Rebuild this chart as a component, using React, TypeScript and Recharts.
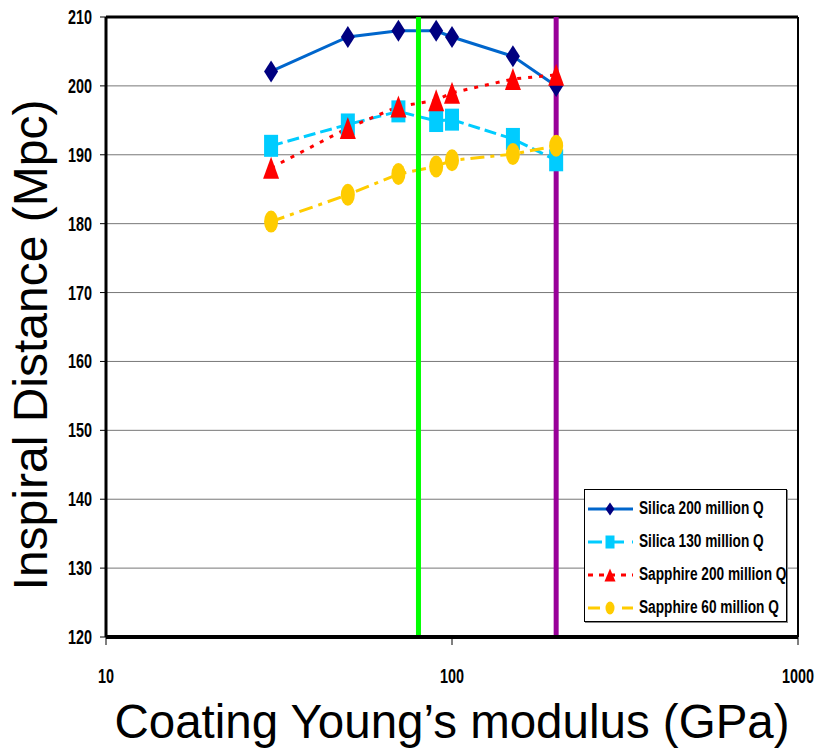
import React from 'react';
import {
  LineChart,
  Line,
  XAxis,
  YAxis,
  CartesianGrid,
  ReferenceLine,
  Legend,
} from 'recharts';

const xValues = [30, 50, 70, 90, 100, 150, 200];
const silica200 = [202.1, 207.1, 208, 208, 207.1, 204.3, 200];
const silica130 = [191.3, 194.4, 196.3, 194.9, 195.1, 192.3, 189.2];
const sapphire200 = [188.1, 193.9, 197, 197.9, 199, 201, 201.6];
const sapphire60 = [180.3, 184.2, 187.2, 188.3, 189.2, 190.1, 191.3];

const xTicks = [10, 100, 1000];
const yTicks = [120, 130, 140, 150, 160, 170, 180, 190, 200, 210];
const markerLines = [80, 200];

const seriesNames = [
  'Silica 200 million Q',
  'Silica 130 million Q',
  'Sapphire 200 million Q',
  'Sapphire 60 million Q',
];

const data = xValues.map((x, i) => ({
  x,
  s200: silica200[i],
  s130: silica130[i],
  p200: sapphire200[i],
  p60: sapphire60[i],
}));

const SANS = "'Liberation Sans', Arial, sans-serif";

type Kind = 'diamond' | 'square' | 'triangle' | 'circle';

const Marker = ({ cx, cy, kind, fill, w = 14, h = 22 }: any) => {
  if (cx == null || cy == null) return null;
  const hw = w / 2;
  const hh = h / 2;
  if (kind === 'diamond') {
    return <path d={`M${cx},${cy - hh}L${cx + hw},${cy}L${cx},${cy + hh}L${cx - hw},${cy}Z`} fill={fill} />;
  }
  if (kind === 'square') {
    return <rect x={cx - hw} y={cy - hh} width={w} height={h} fill={fill} />;
  }
  if (kind === 'triangle') {
    const tw = w + 2;
    return <path d={`M${cx},${cy - hh}L${cx + tw / 2},${cy + hh}L${cx - tw / 2},${cy + hh}Z`} fill={fill} />;
  }
  return <ellipse cx={cx} cy={cy} rx={hw} ry={hh} fill={fill} />;
};

const makeDot = (kind: Kind, fill: string) => (props: any) => (
  <Marker key={`${kind}-${props.index}`} cx={props.cx} cy={props.cy} kind={kind} fill={fill} />
);

const seriesStyle = [
  { key: 's200', stroke: '#0066CC', dash: undefined, legendDash: undefined, marker: 'diamond' as Kind, markerFill: '#000080' },
  { key: 's130', stroke: '#00CCFF', dash: '12 5', legendDash: '14 8', marker: 'square' as Kind, markerFill: '#00CCFF' },
  { key: 'p200', stroke: '#FF0000', dash: '4 7', legendDash: '5 6', marker: 'triangle' as Kind, markerFill: '#FF0000' },
  { key: 'p60', stroke: '#FFCC00', dash: '14 6 4 6', legendDash: '12 22', marker: 'circle' as Kind, markerFill: '#FFCC00' },
];

const NarrowText = ({ x, y, anchor, children }: any) => (
  <g transform={`translate(${x},${y}) scale(0.72,1)`}>
    <text x={0} y={0} textAnchor={anchor} fontFamily={SANS} fontWeight="bold" fontSize={20} fill="#000">
      {children}
    </text>
  </g>
);

const YTick = (props: any) => {
  const { x, y, payload } = props;
  return <NarrowText x={x} y={y + 7} anchor="end">{payload.value}</NarrowText>;
};

const XTick = (props: any) => {
  const { x, payload } = props;
  return <NarrowText x={x} y={683} anchor="middle">{payload.value}</NarrowText>;
};

const LegendContent = () => (
  <div
    style={{
      width: 203,
      height: 133,
      boxSizing: 'border-box',
      border: '1px solid #000',
      background: '#fff',
      boxShadow: '1px 1px 0 #888',
      paddingTop: 2,
    }}
  >
    {seriesStyle.map((s, i) => (
      <div key={s.key} style={{ display: 'flex', alignItems: 'center', height: 33 }}>
        <svg width={50} height={20} style={{ marginLeft: 2, flex: 'none' }}>
          <line
            x1={1}
            y1={10}
            x2={46}
            y2={10}
            stroke={s.stroke}
            strokeWidth={3}
            strokeDasharray={s.legendDash}
          />
          <Marker cx={23} cy={10} kind={s.marker} fill={s.markerFill} w={9} h={13} />
        </svg>
        <span
          style={{
            display: 'inline-block',
            fontFamily: SANS,
            fontWeight: 'bold',
            fontSize: 18,
            color: '#000',
            marginLeft: 2,
            whiteSpace: 'nowrap',
            transform: 'scaleX(0.76)',
            transformOrigin: 'left center',
          }}
        >
          {seriesNames[i]}
        </span>
      </div>
    ))}
  </div>
);

export default function App() {
  return (
    <div style={{ position: 'absolute', left: 0, top: 0, width: 817, height: 749, background: '#fff' }}>
      <LineChart width={817} height={749} data={data} margin={{ top: 17, right: 19, left: 0, bottom: 0 }}>
        <CartesianGrid horizontal vertical={false} stroke="#777" strokeWidth={1} />
        <XAxis
          dataKey="x"
          type="number"
          scale="log"
          domain={[10, 1000]}
          ticks={xTicks}
          allowDataOverflow
          height={112}
          axisLine={{ stroke: '#000', strokeWidth: 4 }}
          tickLine={{ stroke: '#000', strokeWidth: 1 }}
          tickSize={8}
          tick={<XTick />}
          interval={0}
          label={{
            content: () => (
              <text x={452} y={738} textAnchor="middle" fontFamily={SANS} fontSize={47.5} fill="#000">
                Coating Young’s modulus (GPa)
              </text>
            ),
          }}
        />
        <YAxis
          type="number"
          domain={[120, 210]}
          ticks={yTicks}
          width={106}
          interval={0}
          axisLine={{ stroke: '#000', strokeWidth: 3 }}
          tickLine={{ stroke: '#000', strokeWidth: 1 }}
          tickSize={6}
          tickMargin={8}
          tick={<YTick />}
          label={{
            content: () => (
              <text
                x={47}
                y={345}
                textAnchor="middle"
                transform="rotate(-90 47 345)"
                fontFamily={SANS}
                fontSize={48}
                fill="#000"
              >
                Inspiral Distance (Mpc)
              </text>
            ),
          }}
        />
        <ReferenceLine y={210} stroke="#000" strokeWidth={3} />
        <ReferenceLine x={1000} stroke="#000" strokeWidth={2} />
        {seriesStyle.map((s, i) => (
          <Line
            key={s.key}
            dataKey={s.key}
            name={seriesNames[i]}
            stroke={s.stroke}
            strokeWidth={3}
            strokeDasharray={s.dash}
            dot={makeDot(s.marker, s.markerFill)}
            activeDot={false}
            isAnimationActive={false}
            type="linear"
          />
        ))}
        {markerLines.map((v, i) => (
          <ReferenceLine key={v} x={v} stroke={i === 0 ? '#00FF00' : '#990099'} strokeWidth={5} />
        ))}
        <Legend
          layout="vertical"
          align="center"
          verticalAlign="middle"
          content={<LegendContent />}
          wrapperStyle={{ position: 'absolute', left: 584, top: 489, width: 203, height: 133 }}
        />
      </LineChart>
    </div>
  );
}
